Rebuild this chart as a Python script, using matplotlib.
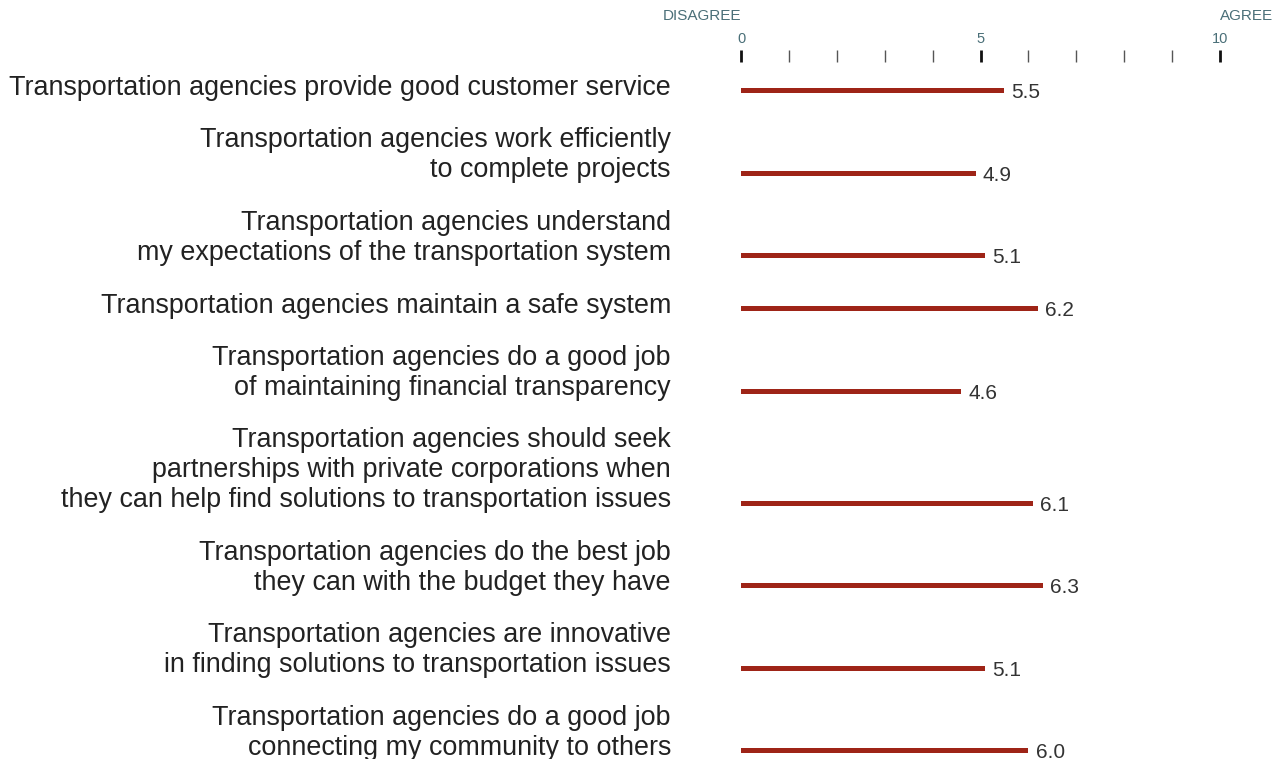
import matplotlib
matplotlib.use('Agg')
import matplotlib.pyplot as plt
from matplotlib.ticker import FixedLocator
import matplotlib.transforms as mtransforms

plt.rcParams['font.family'] = ['Liberation Sans', 'DejaVu Sans']

statements = [
    "Transportation agencies provide good customer service",
    "Transportation agencies work efficiently\nto complete projects",
    "Transportation agencies understand\nmy expectations of the transportation system",
    "Transportation agencies maintain a safe system",
    "Transportation agencies do a good job\nof maintaining financial transparency",
    "Transportation agencies should seek\npartnerships with private corporations when\nthey can help find solutions to transportation issues",
    "Transportation agencies do the best job\nthey can with the budget they have",
    "Transportation agencies are innovative\nin finding solutions to transportation issues",
    "Transportation agencies do a good job\nconnecting my community to others",
]
scores = [5.5, 4.9, 5.1, 6.2, 4.6, 6.1, 6.3, 5.1, 6.0]
major_ticks = [0, 5, 10]
minor_ticks = [1, 2, 3, 4, 6, 7, 8, 9]

BAR_COLOR = '#9e2417'
AXIS_COLOR = '#4a6f78'
W, H = 1288, 759

# row positions in pixel units: each extra label line pushes the row down
rows = []
y = 91
for i, s in enumerate(statements):
    if i > 0:
        y += 53 + 29.5 * s.count('\n')
    rows.append(y)

fig = plt.figure(figsize=(W / 100, H / 100), dpi=100)
top_px = 62
ax = fig.add_axes([741 / W, 0, (1220 - 741) / W, (H - top_px) / H])
ax.set_xlim(0, 10)
ax.set_ylim(H, top_px)

ax.barh(rows, scores, height=5, color=BAR_COLOR)

for yy, v in zip(rows, scores):
    ax.text(v + 0.15, yy + 2, f"{v:.1f}", ha='left', va='center',
            fontsize=15, color='#333333')

# statements right-aligned to the left of the axis
lbl_trans = mtransforms.blended_transform_factory(fig.transFigure, ax.transData)
for yy, s in zip(rows, statements):
    ax.text(671 / W, yy + 10, s, transform=lbl_trans, ha='right', va='bottom',
            fontsize=19.35, color='#222222', linespacing=1.22)

for side in ['left', 'right', 'bottom', 'top']:
    ax.spines[side].set_visible(False)
ax.set_yticks([])
ax.xaxis.tick_top()
ax.xaxis.set_major_locator(FixedLocator(major_ticks))
ax.xaxis.set_minor_locator(FixedLocator(minor_ticks))
ax.tick_params(axis='x', which='major', direction='out', length=8.6, width=2,
               color='#111111', labelsize=10.5, labelcolor=AXIS_COLOR, pad=3)
ax.tick_params(axis='x', which='minor', direction='out', length=8.6, width=1,
               color='#555555')

fig.text(741 / W, 1 - 16 / H, "DISAGREE", ha='right', va='center',
         fontsize=11, color=AXIS_COLOR)
fig.text(1220 / W, 1 - 16 / H, "AGREE", ha='left', va='center',
         fontsize=11, color=AXIS_COLOR)

fig.savefig('out.png', dpi=100)
